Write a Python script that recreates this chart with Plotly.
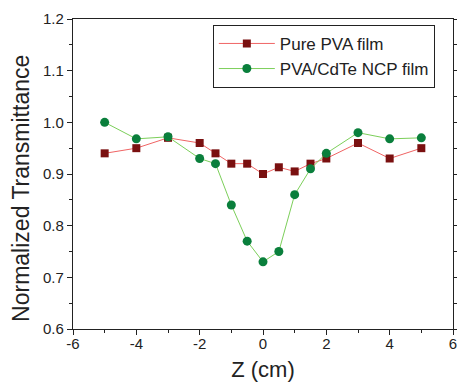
import plotly.graph_objects as go

z = [-5, -4, -3, -2, -1.5, -1, -0.5, 0, 0.5, 1, 1.5, 2, 3, 4, 5]
pure_pva = [0.94, 0.95, 0.97, 0.96, 0.94, 0.92, 0.92, 0.90, 0.913, 0.905, 0.92, 0.93, 0.96, 0.93, 0.95]
pva_cdte = [1.00, 0.968, 0.972, 0.93, 0.92, 0.84, 0.77, 0.73, 0.75, 0.86, 0.91, 0.94, 0.98, 0.968, 0.97]
x_ticks = [-6, -4, -2, 0, 2, 4, 6]
x_tick_labels = ["-6", "-4", "-2", "0", "2", "4", "6"]
y_ticks = [0.6, 0.7, 0.8, 0.9, 1.0, 1.1, 1.2]
y_tick_labels = ["0.6", "0.7", "0.8", "0.9", "1.0", "1.1", "1.2"]
x_title = "Z (cm)"
y_title = "Normalized Transmittance"

font = "Liberation Sans, Arial, sans-serif"

fig = go.Figure()
fig.add_trace(go.Scatter(
    x=z, y=pure_pva, name="Pure PVA film", mode="lines+markers",
    line=dict(color="#f06464", width=1),
    marker=dict(symbol="square", size=8, color="#7a1010"),
))
fig.add_trace(go.Scatter(
    x=z, y=pva_cdte, name="PVA/CdTe NCP film", mode="lines+markers",
    line=dict(color="#7ccf5a", width=1),
    marker=dict(symbol="circle", size=9, color="#0a7f3c"),
))

axis_common = dict(
    showgrid=False, zeroline=False, showline=True, linecolor="#222", linewidth=1.2,
    ticks="outside", ticklen=5, tickcolor="#222", automargin=False,
    tickfont=dict(family=font, size=15, color="#222"),
)
fig.update_xaxes(range=[-6, 6], tickmode="array", tickvals=x_ticks, ticktext=x_tick_labels,
                 mirror=True, ticklabelstandoff=-4, ticklabeloverflow="allow",
                 minor=dict(dtick=1, tick0=-6, ticks="outside", ticklen=3, tickcolor="#222"),
                 title=dict(text=x_title, font=dict(family=font, size=22, color="#222"), standoff=10),
                 **axis_common)
fig.update_yaxes(range=[0.6, 1.2], tickmode="array", tickvals=y_ticks, ticktext=y_tick_labels,
                 mirror="ticks",
                 minor=dict(dtick=0.05, tick0=0.6, ticks="outside", ticklen=3, tickcolor="#222"),
                 **axis_common)

fig.add_annotation(text=y_title, textangle=-90, xref="paper", yref="paper",
                   x=-0.137, y=0.455, xanchor="center", yanchor="middle", showarrow=False,
                   font=dict(family=font, size=23, color="#222"))

fig.update_layout(
    width=457, height=392,
    margin=dict(l=73, r=4, t=19, b=63),
    plot_bgcolor="white", paper_bgcolor="white",
    legend=dict(x=0.368, y=0.981, xanchor="left", yanchor="top",
                bordercolor="#222", borderwidth=1, bgcolor="white",
                font=dict(family=font, size=17, color="#222"),
                tracegroupgap=0, itemwidth=56),
    showlegend=True,
)

fig.write_html("out.html", config={"displayModeBar": False},
               post_script="document.body.style.margin='0';document.body.style.overflow='hidden';")
